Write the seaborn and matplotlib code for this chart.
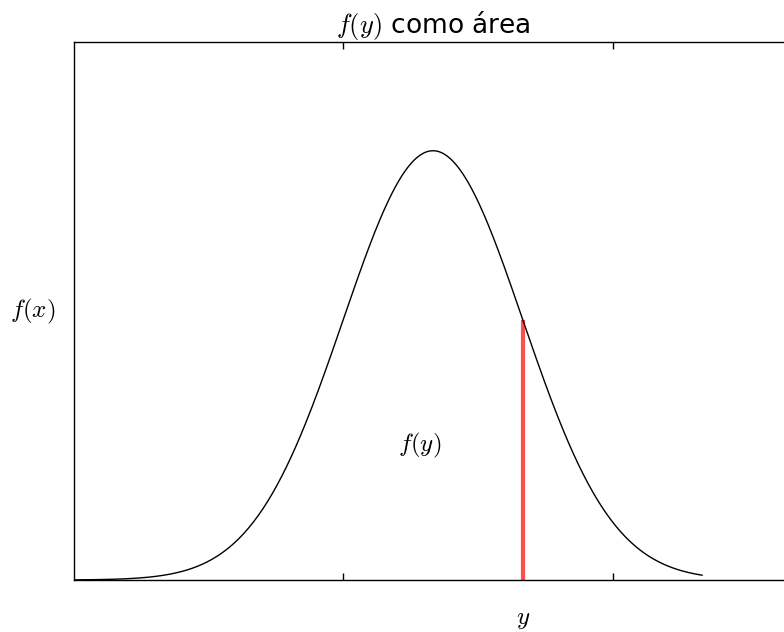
import numpy as np
import pandas as pd
import seaborn as sns
import matplotlib
matplotlib.use("Agg")
import matplotlib.pyplot as plt

# Normal density N(4, 1) drawn over [0, 7]
mu = 4.0
sigma = 1.0
x_start, x_end = 0.0, 7.0
y_point = 5.0
x_limits = [0.0, 8.0]
y_limits = [0.0, 0.5]
x_ticks = [3, 6]

xs = np.linspace(x_start, x_end, 400)
dens = np.exp(-0.5 * ((xs - mu) / sigma) ** 2) / (sigma * np.sqrt(2 * np.pi))
df = pd.DataFrame({"x": xs, "f": dens})
f_y = np.exp(-0.5 * ((y_point - mu) / sigma) ** 2) / (sigma * np.sqrt(2 * np.pi))

sns.set_theme(style="white")
plt.rcParams["mathtext.fontset"] = "cm"
plt.rcParams["font.family"] = ["DejaVu Sans"]
plt.rcParams["text.color"] = "black"
plt.rcParams["axes.labelcolor"] = "black"

fig = plt.figure(figsize=(7.84, 6.32), dpi=100)
ax = fig.add_axes([74 / 784, 52 / 632, 718 / 784, 538 / 632])

ax.vlines(y_point, 0, f_y, colors=(1.0, 0.3, 0.3), linewidth=3, zorder=2)
sns.lineplot(data=df, x="x", y="f", ax=ax, color="black", linewidth=1.0, zorder=3)

ax.set_xlim(x_limits)
ax.set_ylim(y_limits)
ax.set_xticks(x_ticks)
ax.set_xticklabels([])
ax.set_yticks([])
ax.tick_params(axis="x", direction="in", length=5, width=1, color="black",
               top=True, bottom=True)
for s in ax.spines.values():
    s.set_color("black")
    s.set_linewidth(1.0)

ax.text(3.85, 0.125, r"$f(y)$", fontsize=18, ha="center", va="center")
ax.set_xlabel("")
ax.text(y_point, -0.036, r"$y$", fontsize=18, ha="center", va="center")
ax.set_ylabel(r"$f(x)$", fontsize=18, rotation=0, va="center", ha="center")
ax.yaxis.set_label_coords(-0.057, 0.5)
ax.set_title(r"$f(y)$ como área", fontsize=19, pad=5)

fig.savefig("out.png", dpi=100)
